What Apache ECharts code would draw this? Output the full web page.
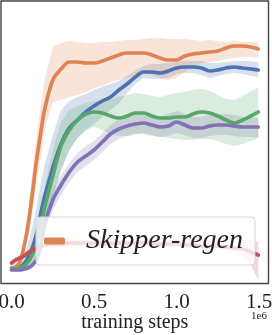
<!DOCTYPE html>
<html>
<head>
<meta charset="utf-8">
<script src="https://cdn.jsdelivr.net/npm/echarts@6/dist/echarts.min.js"></script>
<style>
html,body{margin:0;padding:0;background:#fff;}
#chart{width:272px;height:335px;}
</style>
</head>
<body>
<div id="chart"></div>
<script>
// training steps (units of 1e6)
const steps = [0, 0.025, 0.05, 0.075, 0.1, 0.125, 0.15, 0.175, 0.2, 0.25, 0.3, 0.35, 0.4, 0.45, 0.5, 0.55, 0.6, 0.65, 0.7, 0.75, 0.8, 0.85, 0.9, 0.95, 1.0, 1.05, 1.1, 1.15, 1.2, 1.25, 1.3, 1.35, 1.4, 1.45, 1.495];
const xTicks = [0, 0.5, 1.0, 1.5];

// orange (Skipper-regen)
const orangeMean = [3,4,9,24,46,76,109,136,161,191,202,209,209,208,208,210,213,216,218,218,218,216,213,211,211,215,217,218,219,220,223,225,225,224,222];
const orangeHigh = [5,6,12,31,59,96,133,163,191,224,228,230,229,228,228,229,229,230,231,231,232,233,233,232,232,232,231,230,231,230,229,230,229,229,229];
const orangeLow  = [1,2,5,17,33,56,86,111,141,169,171,174,176,179,183,185,189,191,193,195,198,196,193,191,193,199,205,208,209,210,212,213,214,214,213];

// blue
const blueMean = [3,3,4,7,13,23,36,56,74,103,127,143,151,159,165,170,174,181,187,194,199,199,198,200,203,204,204,203,200,201,203,204,203,202,201];
const blueHigh = [5,6,9,16,27,43,63,86,106,136,161,170,174,177,181,184,187,190,195,200,205,207,207,208,209,210,210,210,208,208,209,210,210,210,209];
const blueLow  = [1,1,2,3,5,10,17,31,46,76,101,121,133,141,147,154,161,168,178,187,193,192,192,193,197,198,198,196,193,195,197,198,197,195,194];

// green
const greenMean = [2,2,3,5,9,16,26,43,63,95,125,141,151,157,159,158,155,153,155,158,158,155,153,153,154,154,157,159,158,155,151,148,151,155,159];
const greenHigh = [4,4,6,10,17,28,43,63,83,121,149,161,165,168,170,171,172,174,176,178,177,175,174,176,178,179,181,182,180,176,172,171,175,180,183];
const greenLow  = [1,1,1,2,4,8,14,26,41,73,101,121,133,141,144,141,137,135,135,137,137,135,134,133,132,131,131,132,132,130,127,125,127,130,133];

// purple
const purpleMean = [1,1,1,2,3,6,11,23,46,71,86,99,109,115,121,129,137,142,145,147,148,146,144,145,149,146,143,143,145,146,146,145,144,144,144];
const purpleHigh = [3,3,3,4,6,10,17,31,56,81,96,108,118,125,130,138,146,152,155,157,158,156,154,157,160,157,154,154,156,157,157,156,154,153,153];
const purpleLow  = [0,0,0,0,1,3,6,16,35,61,76,89,99,105,111,119,127,132,135,137,138,136,134,135,138,136,133,133,135,136,136,135,134,134,134];

// red
const redMean = [8,11,13,15,18,21,23,25,26,27,27,28,28,28,28,28,28,28,28,28,28,27,27,27,27,26,26,25,25,25,24,23,22,19,16];
const redHigh = [11,14,16,18,21,24,26,28,29,30,30,31,31,31,31,31,31,31,31,31,31,30,30,30,30,29,29,28,28,28,27,27,31,31,29];
const redLow  = [5,8,10,12,15,18,20,22,23,24,24,25,25,25,25,25,25,25,25,25,25,24,24,24,24,23,23,22,22,22,21,19,16,6,-9];

const C = {blue:'#4c72b0', orange:'#dd8452', green:'#55a868', red:'#c44e52', purple:'#8172b3'};
function rgba(hex, a){
  const n = parseInt(hex.slice(1),16);
  return 'rgba(' + (n>>16) + ',' + ((n>>8)&255) + ',' + (n&255) + ',' + a + ')';
}

function band(name, lo, hi, color){
  return {
    type:'custom', name: name + ' band', coordinateSystem:'cartesian2d', silent:true, z:1,
    data: steps.map((x,i)=>[x, lo[i], hi[i]]),
    encode:{x:0, y:[1,2]},
    renderItem: function(params, api){
      if (params.dataIndex !== 0) return null;
      const pts = [];
      for (let i=0;i<steps.length;i++) pts.push(api.coord([steps[i], hi[i]]));
      for (let i=steps.length-1;i>=0;i--) pts.push(api.coord([steps[i], lo[i]]));
      return {type:'polygon', shape:{points:pts}, style:{fill: rgba(color, 0.22)}};
    }
  };
}
function line(name, mean, color){
  return {
    type:'line', name:name, z:2, symbol:'none', smooth:0.35, silent:true,
    data: steps.map((x,i)=>[x, mean[i]]),
    lineStyle:{color:color, width:3.7, cap:'round'},
    itemStyle:{color:color}
  };
}

const chart = echarts.init(document.getElementById('chart'), null, {renderer:'canvas'});
chart.setOption({
  animation:false,
  backgroundColor:'#fff',
  grid:{left:1, top:1, right:3.5, bottom:51.5, containLabel:false, outerBoundsMode:'none',
        show:true, borderColor:'#444', borderWidth:1.4, backgroundColor:'#fff'},
  xAxis:{
    type:'value', min:-0.064, max:1.557,
    name:'training steps', nameLocation:'middle', nameGap:29, nameMoveOverlap:false,
    nameTextStyle:{fontFamily:'Liberation Serif', fontSize:20, color:'#222', verticalAlign:'top', lineHeight:20},
    axisLine:{show:false}, axisTick:{show:false}, splitLine:{show:false},
    axisLabel:{customValues: xTicks, formatter: v => v.toFixed(1), fontFamily:'Liberation Serif', fontSize:21, color:'#222', margin:8, hideOverlap:false}
  },
  yAxis:{type:'value', min:-12.5, max:270, show:false, splitLine:{show:false}},
  legend:{
    data:[{name:'Skipper-regen', icon:'roundRect'}],
    left:36, top:217,
    itemWidth:21, itemHeight:7,
    padding:[10, 12, 10, 8],
    backgroundColor:'rgba(255,255,255,0.8)', borderColor:'#d4d4d4', borderWidth:1, borderRadius:4,
    textStyle:{fontFamily:'Liberation Serif', fontStyle:'italic', fontSize:28, color:'#222', padding:[0,0,0,16]}
  },
  graphic:[{type:'text', right:5, top:311, style:{text:'1e6', font:'11px "Liberation Serif"', fill:'#222'}}],
  series:[
    band('Method B', blueLow, blueHigh, C.blue),
    band('Skipper-regen', orangeLow, orangeHigh, C.orange),
    band('Method C', greenLow, greenHigh, C.green),
    band('Method D', purpleLow, purpleHigh, C.purple),
    band('Method E', redLow, redHigh, C.red),
    line('Method B', blueMean, C.blue),
    line('Skipper-regen', orangeMean, C.orange),
    line('Method C', greenMean, C.green),
    line('Method D', purpleMean, C.purple),
    line('Method E', redMean, C.red)
  ]
});
</script>
</body>
</html>
